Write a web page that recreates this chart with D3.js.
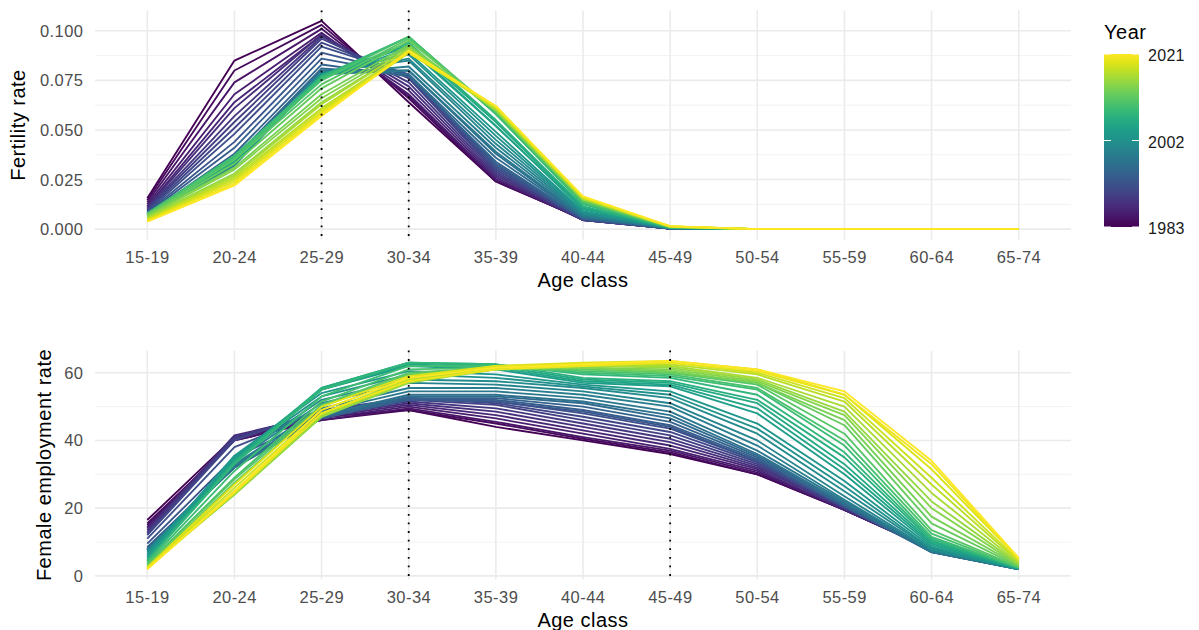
<!DOCTYPE html>
<html>
<head>
<meta charset="utf-8">
<script src="https://cdn.jsdelivr.net/npm/d3@7"></script>
<style>
  html, body { margin: 0; padding: 0; background: #fff; }
  svg { display: block; font-family: "Liberation Sans", Arial, sans-serif; }
</style>
</head>
<body>
<svg id="chart" width="1199" height="630"></svg>
<script>
// ---------------- DATA ----------------
const ageClasses = ["15-19","20-24","25-29","30-34","35-39","40-44","45-49","50-54","55-59","60-64","65-74"];

const years = [1983,1984,1985,1986,1987,1988,1989,1990,1991,1992,1993,1994,1995,1996,1997,1998,1999,2000,
               2001,2002,2003,2004,2005,2006,2007,2008,2009,2010,2011,2012,2013,2014,2015,2016,2017,2018,2019,2020,2021];

// Fertility rate by year (rows) and age class (columns)
const fertilityRates = [
  [0.0155,0.085,0.105,0.064,0.024,0.0052,0.0003,0,0,0,0], // 1983
  [0.0145,0.080,0.103,0.066,0.024,0.0050,0.0003,0,0,0,0], // 1984
  [0.0135,0.074,0.101,0.067,0.025,0.0048,0.0003,0,0,0,0], // 1985
  [0.0125,0.068,0.099,0.068,0.025,0.0046,0.0003,0,0,0,0], // 1986
  [0.0115,0.064,0.098,0.070,0.026,0.0045,0.0003,0,0,0,0], // 1987
  [0.0110,0.061,0.098,0.072,0.027,0.0045,0.0003,0,0,0,0], // 1988
  [0.0105,0.057,0.097,0.074,0.028,0.0045,0.0003,0,0,0,0], // 1989
  [0.0100,0.054,0.096,0.076,0.029,0.0046,0.0003,0,0,0,0], // 1990
  [0.0095,0.051,0.094,0.077,0.030,0.0047,0.0003,0,0,0,0], // 1991
  [0.0090,0.048,0.092,0.078,0.031,0.0048,0.0003,0,0,0,0], // 1992
  [0.0085,0.044,0.089,0.078,0.032,0.0050,0.0003,0,0,0,0], // 1993
  [0.0080,0.041,0.086,0.078,0.033,0.0052,0.0003,0,0,0,0], // 1994
  [0.0075,0.038,0.083,0.077,0.034,0.0055,0.0003,0,0,0,0], // 1995
  [0.0072,0.036,0.081,0.078,0.036,0.0058,0.0004,0,0,0,0], // 1996
  [0.0070,0.035,0.080,0.080,0.038,0.0060,0.0004,0,0,0,0], // 1997
  [0.0068,0.033,0.078,0.080,0.039,0.0065,0.0004,0,0,0,0], // 1998
  [0.0068,0.032,0.078,0.082,0.041,0.0070,0.0004,0,0,0,0], // 1999
  [0.0070,0.033,0.079,0.085,0.043,0.0075,0.0005,0,0,0,0], // 2000
  [0.0070,0.033,0.078,0.086,0.045,0.0080,0.0005,0,0,0,0], // 2001
  [0.0072,0.033,0.078,0.088,0.047,0.0085,0.0005,0,0,0,0], // 2002
  [0.0072,0.033,0.077,0.089,0.049,0.0090,0.0006,0,0,0,0], // 2003
  [0.0075,0.034,0.078,0.092,0.052,0.0100,0.0006,0,0,0,0], // 2004
  [0.0072,0.034,0.076,0.091,0.052,0.0105,0.0007,0,0,0,0], // 2005
  [0.0075,0.035,0.076,0.093,0.054,0.0110,0.0007,0,0,0,0], // 2006
  [0.0075,0.035,0.076,0.094,0.055,0.0115,0.0008,0,0,0,0], // 2007
  [0.0078,0.037,0.077,0.097,0.058,0.0125,0.0008,0,0,0,0], // 2008
  [0.0078,0.037,0.076,0.097,0.058,0.0130,0.0009,0,0,0,0], // 2009
  [0.0078,0.036,0.075,0.097,0.059,0.0135,0.0009,0,0,0,0], // 2010
  [0.0075,0.035,0.073,0.096,0.059,0.0140,0.0010,0,0,0,0], // 2011
  [0.0072,0.033,0.071,0.095,0.060,0.0145,0.0010,0,0,0,0], // 2012
  [0.0070,0.031,0.068,0.093,0.060,0.0148,0.0011,0,0,0,0], // 2013
  [0.0065,0.030,0.066,0.092,0.060,0.0150,0.0011,0,0,0,0], // 2014
  [0.0060,0.028,0.064,0.091,0.060,0.0150,0.0012,0,0,0,0], // 2015
  [0.0055,0.027,0.063,0.091,0.061,0.0155,0.0012,0,0,0,0], // 2016
  [0.0050,0.026,0.061,0.090,0.061,0.0155,0.0013,0,0,0,0], // 2017
  [0.0048,0.025,0.060,0.089,0.061,0.0158,0.0013,0,0,0,0], // 2018
  [0.0045,0.024,0.059,0.089,0.062,0.0160,0.0014,0,0,0,0], // 2019
  [0.0040,0.023,0.058,0.089,0.062,0.0162,0.0014,0,0,0,0], // 2020
  [0.0038,0.022,0.057,0.090,0.062,0.0165,0.0015,0,0,0,0]  // 2021
];

// Female employment rate (%) by year (rows) and age class (columns)
const employmentRates = [
  [16.5,41.0,47.0,49.0,44.0,40.0,36.0,30.0,19.5,8.0,2.5], // 1983
  [15.5,40.0,46.0,49.0,45.0,40.5,36.5,30.0,19.5,8.0,2.5], // 1984
  [15.0,40.0,46.0,49.5,45.5,41.0,37.0,30.5,19.5,8.0,2.4], // 1985
  [14.5,40.5,46.5,50.0,46.5,42.0,37.5,31.0,19.5,7.8,2.4], // 1986
  [14.0,41.0,47.0,50.5,47.5,43.0,38.5,31.5,19.5,7.8,2.3], // 1987
  [13.5,41.5,47.5,51.0,48.5,44.0,39.5,32.0,20.0,7.8,2.3], // 1988
  [13.0,41.0,48.0,51.5,49.5,45.0,40.5,32.5,20.0,7.7,2.2], // 1989
  [12.5,40.5,48.5,52.0,50.5,46.0,41.5,33.0,20.0,7.6,2.2], // 1990
  [12.0,40.0,49.0,52.5,51.0,47.0,42.5,33.5,20.5,7.5,2.2], // 1991
  [11.0,38.0,48.5,52.5,51.5,48.0,43.5,34.0,20.5,7.4,2.1], // 1992
  [ 9.5,35.0,47.0,52.0,51.5,48.5,44.0,34.0,20.5,7.2,2.0], // 1993
  [ 8.5,33.0,46.5,52.0,52.0,49.0,44.5,34.5,20.5,7.0,2.0], // 1994
  [ 8.0,32.0,46.5,52.5,52.5,50.0,45.5,35.0,21.0,7.0,2.0], // 1995
  [ 8.0,32.0,47.0,53.0,53.0,51.0,46.5,35.5,21.0,7.0,2.0], // 1996
  [ 7.5,32.0,47.5,53.5,53.5,51.5,47.5,36.0,21.5,7.0,2.0], // 1997
  [ 7.5,32.5,48.5,54.5,54.5,52.5,48.5,37.0,22.0,7.2,2.0], // 1998
  [ 7.5,33.0,49.5,55.5,55.5,53.5,50.0,38.5,22.5,7.3,2.0], // 1999
  [ 7.5,34.0,51.0,57.0,56.5,54.5,51.0,40.0,23.5,7.5,2.0], // 2000
  [ 7.0,34.5,52.0,58.0,57.5,55.5,52.5,42.0,25.0,7.8,2.0], // 2001
  [ 6.5,35.0,53.0,59.5,58.5,56.0,53.5,43.5,26.5,8.0,2.0], // 2002
  [ 6.0,35.5,54.0,60.5,59.5,56.5,54.5,45.0,28.0,8.5,2.0], // 2003
  [ 5.5,35.0,55.0,62.0,61.0,57.0,56.0,48.0,30.0,9.0,2.2], // 2004
  [ 5.0,34.0,55.0,62.5,61.5,57.5,56.5,49.5,31.5,9.5,2.2], // 2005
  [ 4.5,34.0,55.5,63.0,62.0,58.0,57.0,51.0,33.0,10.0,2.3], // 2006
  [ 4.5,33.5,55.5,63.0,62.5,58.5,57.5,52.0,35.0,10.5,2.3], // 2007
  [ 4.5,33.0,55.0,63.0,62.5,59.5,58.5,53.5,36.5,11.0,2.4], // 2008
  [ 4.0,31.0,53.0,62.0,62.0,60.0,59.0,55.0,38.5,11.5,2.4], // 2009
  [ 3.5,29.0,51.5,61.0,61.5,60.5,59.5,55.5,40.0,12.5,2.5], // 2010
  [ 3.5,28.5,50.5,60.0,61.5,61.0,60.0,56.5,42.0,13.5,2.6], // 2011
  [ 3.0,27.5,50.0,59.5,61.0,61.0,60.0,57.0,44.5,15.5,2.8], // 2012
  [ 2.5,25.0,48.0,58.0,61.0,61.5,60.5,57.0,46.0,17.5,3.0], // 2013
  [ 2.5,24.0,47.0,57.5,61.0,61.5,61.0,57.5,47.5,20.0,3.2], // 2014
  [ 2.5,24.0,47.0,57.0,61.0,62.0,61.5,58.0,48.5,22.0,3.5], // 2015
  [ 2.5,24.5,47.5,57.5,61.5,62.0,62.0,58.5,50.0,24.5,3.8], // 2016
  [ 2.5,25.0,48.0,58.0,61.5,62.5,62.5,59.5,51.5,27.0,4.2], // 2017
  [ 2.5,26.0,49.0,58.5,62.0,62.5,63.0,60.0,52.5,29.0,4.5], // 2018
  [ 2.5,27.0,50.0,59.0,62.0,63.0,63.5,61.0,53.5,31.5,5.0], // 2019
  [ 2.0,24.5,48.0,57.5,61.0,62.0,63.0,60.5,53.5,33.0,5.0], // 2020
  [ 2.0,25.0,49.0,58.5,61.5,62.5,63.5,61.0,54.5,34.0,5.3]  // 2021
];

const fertilityTicks = [0, 0.025, 0.05, 0.075, 0.1];
const fertilityMinor = [0.0125, 0.0375, 0.0625, 0.0875];
const employmentTicks = [0, 20, 40, 60];
const employmentMinor = [10, 30, 50];
const fertilityMarkers = ["25-29", "30-34"];
const employmentMarkers = ["30-34", "45-49"];
const legendTicks = [1983, 2002, 2021];

// ---------------- DRAW ----------------
const svg = d3.select("#chart");
const color = d3.scaleSequential(d3.interpolateViridis).domain([d3.min(years), d3.max(years)]);

const x = d3.scalePoint().domain(ageClasses).range([95, 1071]).padding(0.6);

const TICK_FS = 16.5, TICK_LS = 0.45;
const TITLE_FS = 20, TITLE_LS = 0.5;

function panel(cfg) {
  const g = svg.append("g");
  const all = cfg.rows.flat();
  const lo = d3.min(all), hi = d3.max(all), r = hi - lo;
  const y = d3.scaleLinear().domain([lo - 0.05 * r, hi + 0.05 * r]).range([cfg.bottom, cfg.top]);
  const [x0, x1] = x.range();

  g.selectAll(".minor").data(cfg.minor).join("line")
    .attr("x1", x0).attr("x2", x1)
    .attr("y1", d => y(d)).attr("y2", d => y(d))
    .attr("stroke", "#f0f0f0").attr("stroke-width", 0.9);
  g.selectAll(".majorh").data(cfg.ticks).join("line")
    .attr("x1", x0).attr("x2", x1)
    .attr("y1", d => y(d)).attr("y2", d => y(d))
    .attr("stroke", "#ebebeb").attr("stroke-width", 1.6);
  g.selectAll(".majorv").data(ageClasses).join("line")
    .attr("x1", d => x(d)).attr("x2", d => x(d))
    .attr("y1", cfg.top).attr("y2", cfg.bottom)
    .attr("stroke", "#ebebeb").attr("stroke-width", 1.6);

  const line = d3.line().x((d, i) => x(ageClasses[i])).y(d => y(d));
  g.selectAll(".series").data(cfg.rows).join("path")
    .attr("d", line)
    .attr("fill", "none")
    .attr("stroke", (d, i) => color(years[i]))
    .attr("stroke-width", 1.85)
    .attr("stroke-linejoin", "round");

  g.selectAll(".marker").data(cfg.markers).join("line")
    .attr("x1", d => x(d)).attr("x2", d => x(d))
    .attr("y1", cfg.top).attr("y2", cfg.bottom)
    .attr("stroke", "#000").attr("stroke-width", 1.8)
    .attr("stroke-dasharray", "1.8,6.8");

  g.selectAll(".ylab").data(cfg.ticks).join("text")
    .attr("x", 83 + TICK_LS).attr("y", d => y(d))
    .attr("text-anchor", "end").attr("dominant-baseline", "central")
    .attr("font-size", TICK_FS).attr("letter-spacing", TICK_LS).attr("fill", "#4d4d4d")
    .text(cfg.fmt);
  g.selectAll(".xlab").data(ageClasses).join("text")
    .attr("x", d => x(d) + TICK_LS / 2).attr("y", cfg.bottom + 17)
    .attr("text-anchor", "middle").attr("dominant-baseline", "central")
    .attr("font-size", TICK_FS).attr("letter-spacing", TICK_LS).attr("fill", "#4d4d4d")
    .text(d => d);
  g.append("text")
    .attr("x", (x0 + x1) / 2).attr("y", cfg.bottom + 40)
    .attr("text-anchor", "middle").attr("dominant-baseline", "central")
    .attr("font-size", TITLE_FS).attr("letter-spacing", TITLE_LS).attr("fill", "#000")
    .text("Age class");
  g.append("text")
    .attr("transform", `translate(${cfg.ytitleX},${(cfg.top + cfg.bottom) / 2}) rotate(-90)`)
    .attr("text-anchor", "middle")
    .attr("font-size", TITLE_FS).attr("letter-spacing", TITLE_LS).attr("fill", "#000")
    .text(cfg.ytitle);
}

panel({ rows: fertilityRates, top: 10.5, bottom: 239.5, ticks: fertilityTicks, minor: fertilityMinor,
        markers: fertilityMarkers, fmt: d3.format(".3f"), ytitle: "Fertility rate", ytitleX: 25 });
panel({ rows: employmentRates, top: 350.5, bottom: 579.5, ticks: employmentTicks, minor: employmentMinor,
        markers: employmentMarkers, fmt: d3.format("d"), ytitle: "Female employment rate", ytitleX: 50.5 });

// ---------------- LEGEND ----------------
const lg = svg.append("g");
const barX = 1104, barW = 35, barTop = 54, barBottom = 227;
const ly = d3.scaleLinear().domain([d3.min(years), d3.max(years)]).range([barBottom, barTop]);
const defs = svg.append("defs");
const grad = defs.append("linearGradient").attr("id", "vgrad")
  .attr("x1", 0).attr("y1", 1).attr("x2", 0).attr("y2", 0);
grad.selectAll("stop").data(d3.range(0, 1.0001, 0.05)).join("stop")
  .attr("offset", d => d)
  .attr("stop-color", d => d3.interpolateViridis(d));
lg.append("text").attr("x", barX).attr("y", 39)
  .attr("font-size", TITLE_FS).attr("letter-spacing", TITLE_LS).attr("fill", "#000").text("Year");
lg.append("rect").attr("x", barX).attr("y", barTop).attr("width", barW).attr("height", barBottom - barTop)
  .attr("fill", "url(#vgrad)");
lg.selectAll(".tl").data(legendTicks).join("line")
  .attr("x1", barX).attr("x2", barX + 7).attr("y1", d => ly(d)).attr("y2", d => ly(d))
  .attr("stroke", "#fff").attr("stroke-width", 1);
lg.selectAll(".tr").data(legendTicks).join("line")
  .attr("x1", barX + barW - 7).attr("x2", barX + barW).attr("y1", d => ly(d)).attr("y2", d => ly(d))
  .attr("stroke", "#fff").attr("stroke-width", 1);
lg.selectAll(".ltext").data(legendTicks).join("text")
  .attr("x", 1148).attr("y", d => ly(d) + 1.5)
  .attr("dominant-baseline", "central")
  .attr("font-size", 16).attr("letter-spacing", 0.3).attr("fill", "#1a1a1a")
  .text(d => d);
</script>
</body>
</html>
